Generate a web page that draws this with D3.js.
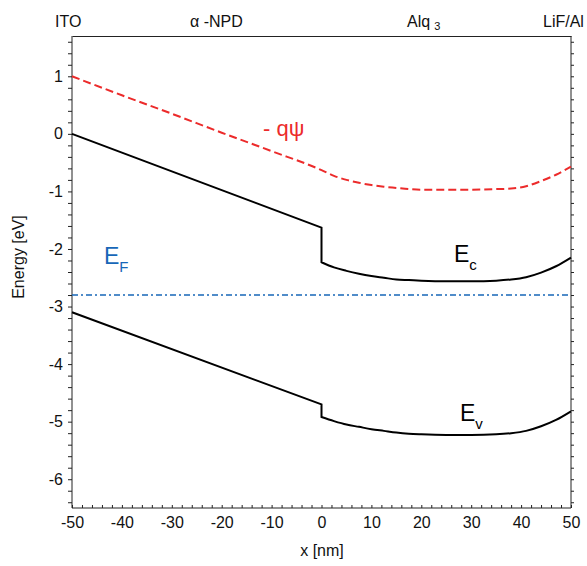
<!DOCTYPE html>
<html>
<head>
<meta charset="utf-8">
<script src="https://cdn.jsdelivr.net/npm/d3@7"></script>
<style>
  html, body { margin: 0; padding: 0; background: #fff; }
  svg { display: block; font-family: "Liberation Sans", Arial, Helvetica, sans-serif; }
</style>
</head>
<body>
<svg id="chart" width="587" height="566"></svg>
<script>
// α-NPD layer (-50..0 nm): straight bands
const xNpd = [-50, 0];
const conductionNpd = [0, -1.63];
const valenceNpd = [-3.10, -4.70];

// Alq3 layer (0..50 nm): bent bands
const xAlq = [0, 2.5, 5, 7.5, 10, 12.5, 15, 17.5, 20, 25, 30, 35, 38, 41, 44, 47, 50];
const conductionAlq = [-2.23, -2.32, -2.38, -2.43, -2.47, -2.50, -2.53, -2.54, -2.55, -2.56, -2.56, -2.55, -2.53, -2.49, -2.41, -2.30, -2.15];
const valenceAlq = [-4.92, -4.99, -5.05, -5.09, -5.13, -5.16, -5.19, -5.21, -5.22, -5.23, -5.23, -5.22, -5.20, -5.16, -5.08, -4.97, -4.82];

// Electrostatic potential energy -qψ
const xPotential = [-50, -40, -30, -20, -10, 0, 2.5, 5, 7.5, 10, 12.5, 15, 17.5, 20, 25, 30, 35, 38, 41, 44, 47, 50];
const potential = [1.0, 0.67, 0.35, 0.02, -0.30, -0.63, -0.73, -0.80, -0.85, -0.89, -0.92, -0.94, -0.96, -0.97, -0.97, -0.97, -0.96, -0.95, -0.91, -0.82, -0.71, -0.57];

// Fermi level
const fermiLevel = -2.8;

// Layer names along the top
const layerNames = ["ITO", "α -NPD", "Alq", "LiF/Al"];
const layerX = [55, 190, 407, 543];

const xTicks = [-50, -40, -30, -20, -10, 0, 10, 20, 30, 40, 50];
const yTicks = [1, 0, -1, -2, -3, -4, -5, -6];

const svg = d3.select("#chart");
const x = d3.scaleLinear().domain([-50, 50]).range([72, 571]);
const y = d3.scaleLinear().domain([-6.5, 1.7]).range([508, 36]);

const axisColor = "#222";
const fifths = d3.range(-32, 9).map(i => i / 5);
const isLabelled = d => yTicks.some(t => Math.abs(t - d) < 1e-9);

// Left axis: ticks every 0.2 eV, labels on integers
const gl = svg.append("g").attr("transform", `translate(${x(-50)},0)`)
  .call(d3.axisLeft(y).tickValues(fifths).tickSize(4).tickPadding(5)
    .tickFormat(d => isLabelled(d) ? String(Math.round(d)) : ""));

// Right axis: ticks only
const gr = svg.append("g").attr("transform", `translate(${x(50)},0)`)
  .call(d3.axisRight(y).tickValues(fifths).tickSize(3).tickFormat(""));

// Bottom axis: inward ticks every 2 nm, labels every 10 nm
const gb = svg.append("g").attr("transform", `translate(0,${y(-6.5)})`)
  .call(d3.axisBottom(x).tickValues(d3.range(-50, 51, 2)).tickSize(-3).tickPadding(9)
    .tickFormat(d => xTicks.includes(d) ? String(d) : ""));

// Top axis: plain line
const gt = svg.append("g").attr("transform", `translate(0,${y(1.7)})`)
  .call(d3.axisTop(x).tickValues([]).tickSizeOuter(0));

[gl, gr, gb, gt].forEach(g => {
  g.select(".domain").attr("stroke", axisColor).attr("stroke-width", 1);
  g.selectAll(".tick line").attr("stroke", axisColor).attr("stroke-width", 1);
  g.selectAll(".tick text").attr("fill", "#111").style("font-size", "16px")
    .style("font-family", "'Liberation Sans', Arial, Helvetica, sans-serif");
});
gl.select(".domain").attr("d", `M0,${y(1.7)}V${y(-6.5)}`);
gr.select(".domain").attr("d", `M0,${y(1.7)}V${y(-6.5)}`);
gb.select(".domain").attr("d", `M${x(-50)},0H${x(50)}`);
gb.selectAll(".tick text").attr("dy", "0.71em");

// Axis titles
svg.append("text").attr("x", 322).attr("y", 556).attr("text-anchor", "middle")
  .style("font-size", "16px").attr("fill", "#111").text("x [nm]");
svg.append("text").attr("transform", "translate(24,257) rotate(-90)")
  .attr("text-anchor", "middle").style("font-size", "16px").attr("fill", "#111").text("Energy [eV]");

// Layer labels
layerNames.forEach((name, i) => {
  const t = svg.append("text").attr("x", layerX[i]).attr("y", 27)
    .style("font-size", "16px").attr("fill", "#111");
  if (name === "Alq") {
    t.append("tspan").text("Alq");
    t.append("tspan").attr("dx", 4).attr("dy", 3).style("font-size", "11px").text("3");
  } else {
    t.text(name);
  }
});

// Curves
const straight = d3.line().x(d => x(d[0])).y(d => y(d[1]));
const smooth = d3.line().x(d => x(d[0])).y(d => y(d[1])).curve(d3.curveMonotoneX);

svg.append("path")
  .datum(xPotential.map((v, i) => [v, potential[i]]))
  .attr("d", smooth).attr("fill", "none")
  .attr("stroke", "#ec2b2b").attr("stroke-width", 2).attr("stroke-dasharray", "8,4");

svg.append("path")
  .datum([[-50, fermiLevel], [50, fermiLevel]])
  .attr("d", straight).attr("fill", "none")
  .attr("stroke", "#1767b8").attr("stroke-width", 1.6).attr("stroke-dasharray", "6,3,2,3");

// Each band: straight α-NPD segment, offset step at the interface, smooth Alq3 segment
function band(npd, alq) {
  const seg1 = xNpd.map((v, i) => [v, npd[i]]).concat([[0, alq[0]]]);
  const seg2 = xAlq.map((v, i) => [v, alq[i]]);
  const path = straight(seg1) + smooth(seg2).replace(/^M/, "L");
  svg.append("path").attr("d", path).attr("fill", "none")
    .attr("stroke", "#000").attr("stroke-width", 2).attr("stroke-linejoin", "miter");
}
band(conductionNpd, conductionAlq);
band(valenceNpd, valenceAlq);

// Curve labels
function subLabel(px, py, main, sub, color) {
  const t = svg.append("text").attr("x", px).attr("y", py).attr("fill", color).style("font-size", "23px");
  t.append("tspan").text(main);
  t.append("tspan").attr("dy", 8).style("font-size", "15px").text(sub);
}
subLabel(104, 264, "E", "F", "#1767b8");
subLabel(454, 262, "E", "c", "#000");
subLabel(460, 421, "E", "v", "#000");

svg.append("text").attr("x", 263).attr("y", 136).attr("fill", "#ec2b2b")
  .style("font-size", "22px").text("- qψ");
</script>
</body>
</html>
